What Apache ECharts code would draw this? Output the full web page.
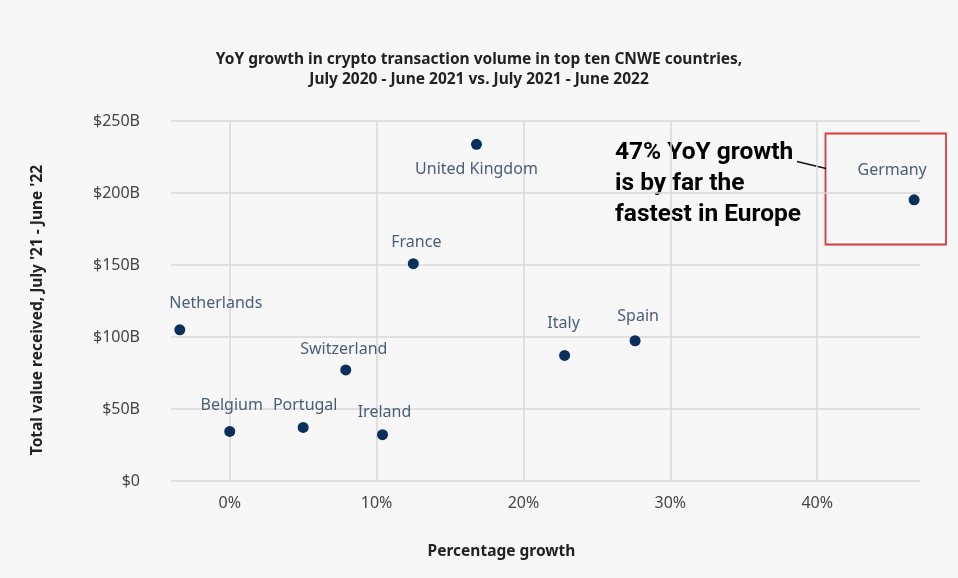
<!DOCTYPE html>
<html>
<head>
<meta charset="utf-8">
<script src="https://cdn.jsdelivr.net/npm/echarts@6/dist/echarts.min.js"></script>
<style>
  html, body { margin: 0; padding: 0; background: #f7f7f7; }
  #chart { width: 958px; height: 578px; }
</style>
</head>
<body>
<div id="chart"></div>
<script>
const countries = ["Netherlands", "Belgium", "Portugal", "Switzerland", "Ireland",
  "France", "United Kingdom", "Italy", "Spain", "Germany"];
const growthPct = [-3.4, 0.0, 5.0, 7.9, 10.4, 12.5, 16.8, 22.8, 27.6, 46.6];
const valueBn = [105, 34.4, 37.2, 77.1, 32.2, 150.9, 233.8, 87.2, 97.4, 195.3];
const yTicks = [0, 50, 100, 150, 200, 250];

// where each name sits relative to its dot (px)
const labelOffsets = {
  "Netherlands": [36, -26],
  "Belgium": [2, -26],
  "Portugal": [2, -22],
  "Switzerland": [-2, -21],
  "Ireland": [2, -22],
  "France": [3, -21],
  "United Kingdom": [0, 25],
  "Italy": [-1, -32],
  "Spain": [3, -24],
  "Germany": [-22, -29],
};

const points = countries.map((name, i) => ({
  name: name,
  value: [growthPct[i], valueBn[i]],
  label: { offset: labelOffsets[name] },
}));

const gridColor = "#d9d9d9";
const font = "Noto Sans";

const options = {
  backgroundColor: "#f7f7f7",
  title: {
    text: "YoY growth in crypto transaction volume in top ten CNWE countries,\nJuly 2020 - June 2021 vs. July 2021 - June 2022",
    left: "center",
    top: 45,
    textStyle: {
      fontFamily: font,
      fontSize: 15.5,
      fontWeight: "bold",
      color: "#222",
      lineHeight: 20,
    },
  },
  grid: { left: 171, right: 38, top: 121, bottom: 97 },
  xAxis: {
    type: "value",
    min: -4,
    max: 47,
    name: "Percentage growth",
    nameLocation: "middle",
    nameGap: 63,
    nameTextStyle: {
      fontFamily: font,
      fontSize: 15.5,
      fontWeight: "bold",
      color: "#222",
      padding: [0, 88, 0, 0],
    },
    axisLine: { show: false },
    axisTick: { show: false },
    axisLabel: {
      margin: 14,
      fontFamily: font,
      fontSize: 16,
      color: "#444",
      showMinLabel: false,
      showMaxLabel: false,
      formatter: (v) => (v % 10 === 0 ? v + "%" : ""),
    },
    splitLine: {
      show: true,
      lineStyle: {
        width: 1.5,
        color: ["rgba(0,0,0,0)", gridColor, gridColor, gridColor, gridColor, gridColor, "rgba(0,0,0,0)"],
      },
    },
  },
  yAxis: {
    type: "value",
    min: yTicks[0],
    max: yTicks[yTicks.length - 1],
    interval: yTicks[1] - yTicks[0],
    name: "Total value received, July '21 - June '22",
    nameLocation: "middle",
    nameGap: 125,
    nameTextStyle: {
      fontFamily: font,
      fontSize: 15.5,
      fontWeight: "bold",
      color: "#222",
      padding: [0, 18, 0, 0],
    },
    axisLine: { show: false },
    axisTick: { show: false },
    axisLabel: {
      margin: 31,
      fontFamily: font,
      fontSize: 16,
      color: "#444",
      formatter: (v) => (v === 0 ? "$0" : "$" + v + "B"),
    },
    splitLine: { lineStyle: { color: gridColor, width: 1.5 } },
  },
  series: [
    {
      type: "scatter",
      symbolSize: 11,
      itemStyle: { color: "#0b2f5b", opacity: 1 },
      label: {
        show: true,
        position: "inside",
        formatter: "{b}",
        fontFamily: font,
        fontSize: 16,
        color: "#4b5d78",
      },
      emphasis: { disabled: true },
      data: points,
    },
  ],
  graphic: [
    {
      type: "rect",
      shape: { x: 825.5, y: 133.5, width: 120.5, height: 111 },
      style: { fill: "none", stroke: "#d63a3f", lineWidth: 1.8 },
    },
    {
      type: "line",
      shape: { x1: 797, y1: 161.5, x2: 826, y2: 168.5 },
      style: { stroke: "#111", lineWidth: 1.5 },
    },
    {
      type: "text",
      left: 615,
      top: 137,
      style: {
        text: "47% YoY growth\nis by far the\nfastest in Europe",
        font: "bold 24.5px Roboto",
        fill: "#000",
        lineHeight: 31,
      },
    },
  ],
};

document.addEventListener("DOMContentLoaded", function () {
  const chart = echarts.init(document.getElementById("chart"));
  chart.setOption(options);
});
</script>
</body>
</html>
